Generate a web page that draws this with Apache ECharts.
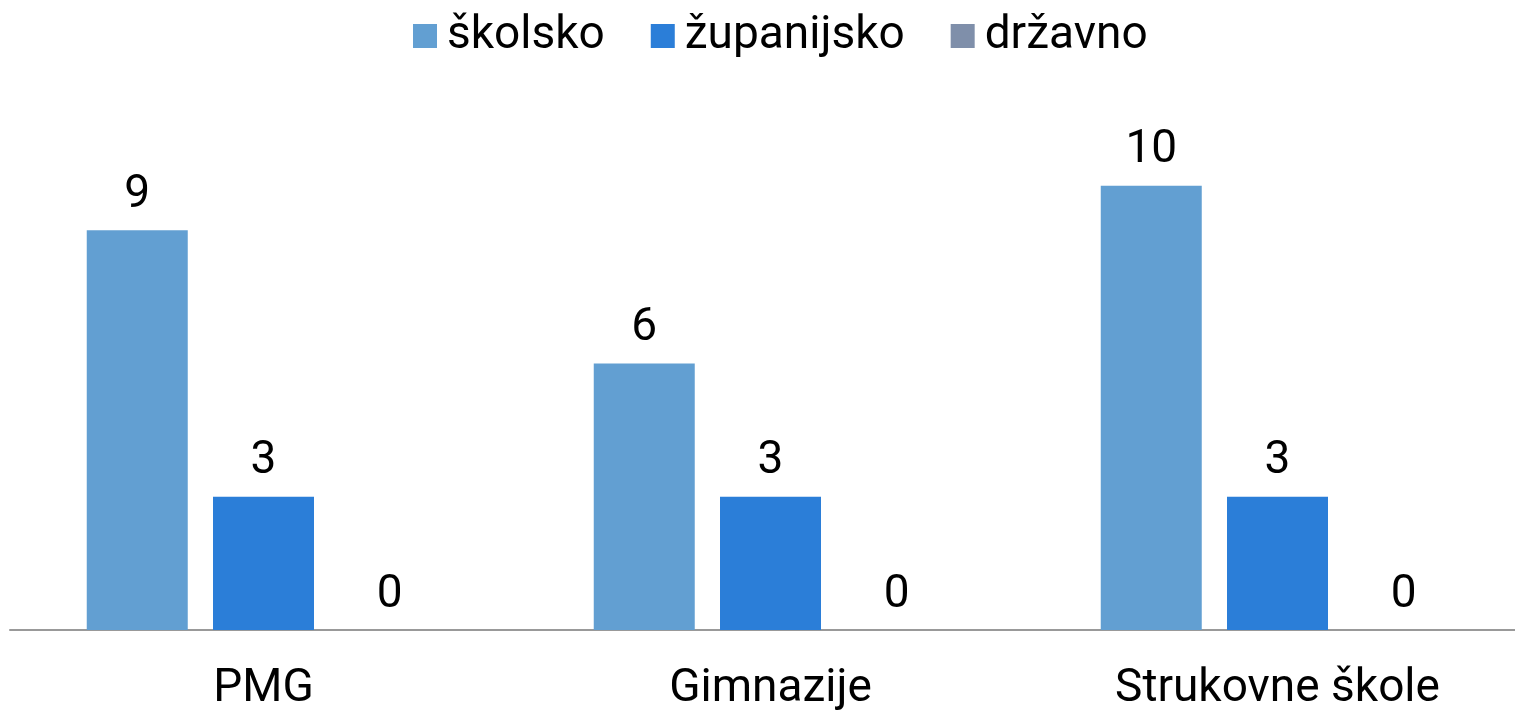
<!DOCTYPE html>
<html>
<head>
<meta charset="utf-8">
<script src="https://cdn.jsdelivr.net/npm/echarts@6/dist/echarts.min.js"></script>
<style>
  html, body { margin: 0; padding: 0; background: #fff; overflow: hidden; }
  #chart { width: 1531px; height: 712px; }
</style>
</head>
<body>
<div id="chart"></div>
<script>
// kategorije i vrijednosti
const categories = ["PMG", "Gimnazije", "Strukovne škole"];
const skolsko = [9, 6, 10];
const zupanijsko = [3, 3, 3];
const drzavno = [0, 0, 0];

const font = "Roboto, 'Liberation Sans', sans-serif";

const chart = echarts.init(document.getElementById("chart"));

const label = {
  show: true,
  position: "top",
  distance: 12,
  color: "#000",
  fontSize: 46,
  fontFamily: font,
};

chart.setOption({
  animation: false,
  color: ["#629fd2", "#2b7ed8", "#7f8faa"],
  legend: {
    top: 8,
    left: 408,
    itemWidth: 24,
    itemHeight: 24,
    itemGap: 46,
    icon: "rect",
    textStyle: { fontSize: 46, fontFamily: font, color: "#000", padding: [0, 0, 0, 5] },
    data: ["školsko", "županijsko", "državno"],
  },
  // plot runs a bit past the right edge of the window, like the original
  grid: { left: 10, right: 0, top: 97, bottom: 82, containLabel: false },
  xAxis: {
    type: "category",
    data: categories,
    axisLine: { lineStyle: { color: "#999", width: 2 } },
    axisTick: { show: false },
    axisLabel: { color: "#000", fontSize: 46, fontFamily: font, margin: 36 },
  },
  yAxis: {
    type: "value",
    min: 0,
    max: 12,
    show: false,
    splitLine: { show: false },
  },
  series: [
    { name: "školsko", type: "bar", data: skolsko, barWidth: 101, barGap: "25%", label: label },
    { name: "županijsko", type: "bar", data: zupanijsko, barWidth: 101, barGap: "25%", label: label },
    { name: "državno", type: "bar", data: drzavno, barWidth: 101, barGap: "25%", label: label },
  ],
});
</script>
</body>
</html>
